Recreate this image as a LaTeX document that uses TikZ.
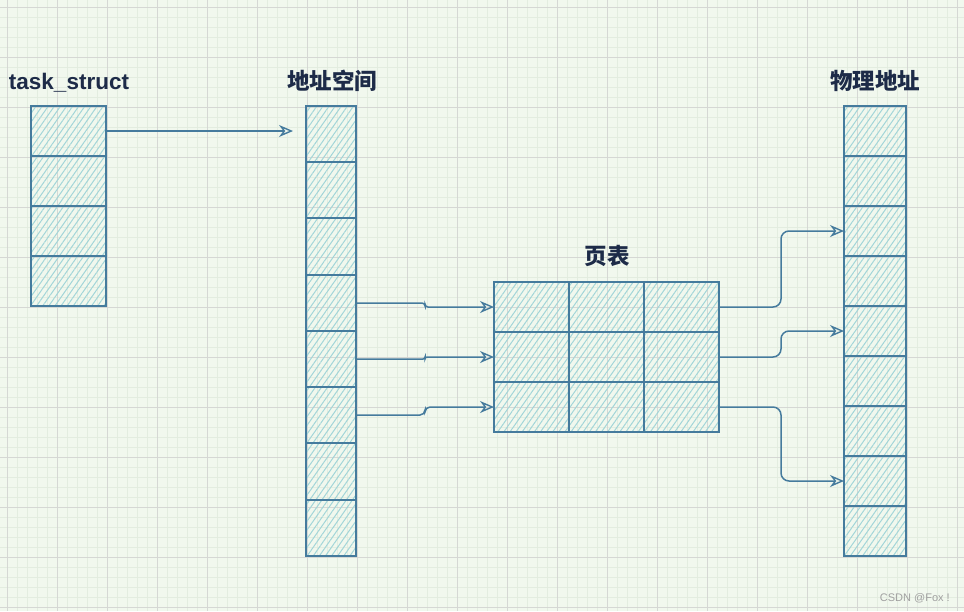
\documentclass[tikz,border=0pt]{standalone}
\usepackage{fontspec}
\setmainfont{Liberation Sans}
\newfontfamily\cjk{Noto Sans CJK SC}
\usetikzlibrary{arrows.meta,patterns.meta}
\definecolor{bg}{HTML}{F1F8EE}
\definecolor{gminor}{HTML}{E3EDE0}
\definecolor{gmajor}{HTML}{D5D8D4}
\definecolor{stroke}{HTML}{457B9D}
\definecolor{hatch}{HTML}{A2D5D8}
\definecolor{ink}{HTML}{1D2B48}
\definecolor{wm}{HTML}{A0A0A0}
\begin{document}
\begin{tikzpicture}[x=1pt,y=-1pt,
  cell/.style={draw=stroke,line width=1.4pt,inner sep=0pt,outer sep=0pt,
    pattern={Lines[angle=55,distance=5pt,line width=1pt]},pattern color=hatch},
  tscell/.style={cell,minimum width=75pt,minimum height=50pt},
  ascell/.style={cell,minimum width=50pt,minimum height=#1},
  ptcell/.style={cell,minimum width=75pt,minimum height=50pt},
  pacell/.style={cell,minimum width=62pt,minimum height=50pt},
  title/.style={anchor=base,text=ink,inner sep=0pt,font=\fontsize{22.5}{27}\selectfont\bfseries},
  ctitle/.style={title,font=\fontsize{22.5}{27}\selectfont\cjk\bfseries},
  conn/.style={draw=stroke,line width=1.5pt,-{Stealth[open,length=14pt,width=12pt,inset=4.5pt,line width=1.4pt]}},
  minor/.style={draw=gminor,line width=0.8pt},
  major/.style={draw=gmajor,line width=0.8pt}]
\useasboundingbox (0,0) rectangle (964,611);
\fill[bg] (0,0) rectangle (964,611);
\foreach \x in {7,17,...,957} \draw[minor] (\x,0) -- (\x,611);
\foreach \y in {7,17,...,607} \draw[minor] (0,\y) -- (964,\y);
\foreach \x in {7,57,...,957} \draw[major] (\x,0) -- (\x,611);
\foreach \y in {7,57,...,607} \draw[major] (0,\y) -- (964,\y);

% titles
\node[title] (tst) at (69,89) {task\_struct};
\node[ctitle] (ast) at (332,89) {地址空间};
\node[ctitle] (ptt) at (607,264) {页表};
\node[ctitle] (pat) at (875,89) {物理地址};

% task_struct
\foreach \i in {1,...,4}
  \node[tscell] (ts\i) at (68.5,{131+50*(\i-1)}) {};
% address space (row boundaries 106,162,218,275,331,387,443,500,556)
\foreach \i/\t/\b in {1/106/162,2/162/218,3/218/275,4/275/331,5/331/387,6/387/443,7/443/500,8/500/556}
  \node[ascell={(\b-\t)*1pt}] (as\i) at (331,{(\t+\b)/2}) {};
% page table
\foreach \r in {1,2,3}
  \foreach \c in {1,2,3}
    \node[ptcell] (pt\r\c) at ({531.5+75*(\c-1)},{307+50*(\r-1)}) {};
% physical
\foreach \i in {1,...,9}
  \node[pacell] (pa\i) at (875,{131+50*(\i-1)}) {};

% connectors
\coordinate (t1) at (293,131);
\draw[conn] (ts1.east) -- (t1);
\draw[conn,rounded corners=3pt] (as4.east) -- ++(69,0) |- (pt11.west);
\draw[conn,rounded corners=2pt] (as5.east) -- ++(69,0) |- (pt21.west);
\draw[conn,rounded corners=5pt] (as6.east) -- ++(69,0) |- (pt31.west);
\draw[conn,rounded corners=8pt] (pt13.east) -- ++(62,0) |- (pa3.west);
\draw[conn,rounded corners=8pt] (pt23.east) -- ++(62,0) |- (pa5.west);
\draw[conn,rounded corners=8pt] (pt33.east) -- ++(62,0) |- (pa8.west);

% watermark
\node[anchor=base east,inner sep=0pt,text=wm,font=\fontsize{11}{13}\selectfont] (wmk) at (950,601) {CSDN @Fox !};
\end{tikzpicture}
\end{document}
